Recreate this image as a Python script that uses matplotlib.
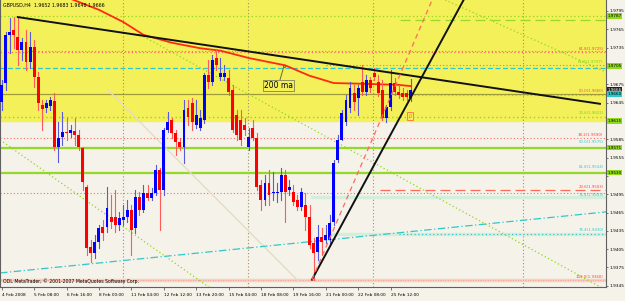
import matplotlib
matplotlib.use("Agg")
import matplotlib.pyplot as plt
import matplotlib.transforms as mtransforms

# GBPUSD H4 bars from 4 Feb 2008
opens = [1.9646, 1.9677, 1.9756, 1.9764, 1.9752, 1.9731, 1.9744, 1.9711, 1.9736, 1.9687,
         1.9641, 1.9636, 1.9640, 1.9648, 1.9572, 1.9589, 1.9597, 1.9595, 1.9599, 1.9592,
         1.9571, 1.9507, 1.9409, 1.9399, 1.9417, 1.9441, 1.9441, 1.9458, 1.9458, 1.9445,
         1.9453, 1.9458, 1.9469, 1.9440, 1.9491, 1.9469, 1.9497, 1.9489, 1.9497, 1.9535,
         1.9502, 1.9600, 1.9617, 1.9595, 1.9581, 1.9572, 1.9636, 1.9644, 1.9608, 1.9604,
         1.9617, 1.9690, 1.9679, 1.9718, 1.9687, 1.9687, 1.9685, 1.9666, 1.9625, 1.9617,
         1.9608, 1.9572, 1.9604, 1.9587, 1.9510, 1.9486, 1.9513, 1.9497, 1.9497, 1.9499,
         1.9527, 1.9502, 1.9499, 1.9486, 1.9474, 1.9477, 1.9458, 1.9415, 1.9400, 1.9425,
         1.9420, 1.9420, 1.9450, 1.9551, 1.9584, 1.9613, 1.9636, 1.9661, 1.9653, 1.9679,
         1.9662, 1.9682, 1.9693, 1.9679, 1.9666, 1.9620, 1.9638, 1.9677, 1.9662, 1.9661,
         1.9661, 1.9652]
highs = [1.9682, 1.9761, 1.9784, 1.9785, 1.9785, 1.9751, 1.9764, 1.9761, 1.9748, 1.9695,
         1.9649, 1.9649, 1.9654, 1.9661, 1.9613, 1.9630, 1.9620, 1.9608, 1.9620, 1.9600,
         1.9572, 1.9510, 1.9420, 1.9428, 1.9445, 1.9453, 1.9507, 1.9494, 1.9502, 1.9466,
         1.9477, 1.9486, 1.9477, 1.9502, 1.9499, 1.9510, 1.9510, 1.9505, 1.9543, 1.9538,
         1.9604, 1.9630, 1.9620, 1.9600, 1.9587, 1.9649, 1.9649, 1.9653, 1.9649, 1.9633,
         1.9693, 1.9715, 1.9723, 1.9731, 1.9718, 1.9707, 1.9698, 1.9674, 1.9633, 1.9633,
         1.9620, 1.9604, 1.9617, 1.9595, 1.9518, 1.9527, 1.9535, 1.9531, 1.9513, 1.9538,
         1.9535, 1.9518, 1.9510, 1.9494, 1.9505, 1.9497, 1.9477, 1.9423, 1.9445, 1.9440,
         1.9445, 1.9461, 1.9551, 1.9592, 1.9633, 1.9658, 1.9679, 1.9674, 1.9674, 1.9707,
         1.9690, 1.9687, 1.9702, 1.9690, 1.9682, 1.9641, 1.9698, 1.9685, 1.9674, 1.9669,
         1.9666, 1.9683]
lows = [1.9633, 1.9666, 1.9726, 1.9734, 1.9707, 1.9715, 1.9698, 1.9702, 1.9671, 1.9633,
        1.9600, 1.9630, 1.9633, 1.9567, 1.9548, 1.9576, 1.9584, 1.9589, 1.9576, 1.9567,
        1.9502, 1.9396, 1.9384, 1.9391, 1.9407, 1.9420, 1.9433, 1.9440, 1.9433, 1.9437,
        1.9445, 1.9450, 1.9396, 1.9432, 1.9461, 1.9466, 1.9486, 1.9486, 1.9494, 1.9437,
        1.9494, 1.9597, 1.9587, 1.9559, 1.9567, 1.9546, 1.9608, 1.9600, 1.9604, 1.9600,
        1.9612, 1.9669, 1.9674, 1.9698, 1.9682, 1.9682, 1.9658, 1.9597, 1.9584, 1.9576,
        1.9592, 1.9567, 1.9584, 1.9502, 1.9469, 1.9477, 1.9477, 1.9486, 1.9482, 1.9486,
        1.9450, 1.9494, 1.9477, 1.9469, 1.9469, 1.9437, 1.9407, 1.9355, 1.9387, 1.9396,
        1.9415, 1.9412, 1.9445, 1.9548, 1.9584, 1.9608, 1.9630, 1.9633, 1.9625, 1.9658,
        1.9658, 1.9662, 1.9682, 1.9656, 1.9617, 1.9613, 1.9633, 1.9658, 1.9653, 1.9649,
        1.9649, 1.9648]
closes = [1.9674, 1.9756, 1.9761, 1.9756, 1.9731, 1.9744, 1.9711, 1.9736, 1.9687, 1.9644,
          1.9635, 1.9644, 1.9649, 1.9572, 1.9587, 1.9597, 1.9595, 1.9600, 1.9592, 1.9572,
          1.9515, 1.9407, 1.9399, 1.9417, 1.9440, 1.9432, 1.9472, 1.9450, 1.9445, 1.9456,
          1.9458, 1.9469, 1.9437, 1.9491, 1.9469, 1.9497, 1.9489, 1.9497, 1.9535, 1.9502,
          1.9600, 1.9613, 1.9595, 1.9581, 1.9572, 1.9633, 1.9622, 1.9613, 1.9625, 1.9620,
          1.9690, 1.9679, 1.9715, 1.9707, 1.9693, 1.9693, 1.9662, 1.9600, 1.9592, 1.9584,
          1.9600, 1.9589, 1.9587, 1.9507, 1.9486, 1.9513, 1.9494, 1.9499, 1.9499, 1.9527,
          1.9499, 1.9507, 1.9482, 1.9474, 1.9499, 1.9458, 1.9412, 1.9399, 1.9425, 1.9417,
          1.9428, 1.9448, 1.9546, 1.9584, 1.9628, 1.9649, 1.9669, 1.9646, 1.9669, 1.9662,
          1.9682, 1.9669, 1.9687, 1.9661, 1.9620, 1.9638, 1.9677, 1.9662, 1.9658, 1.9654,
          1.9654, 1.9666]

# 200 period moving average, sampled along the curve
ma_bars = [17, 24, 30, 35, 42, 49, 54, 61, 70, 76, 82, 88, 98, 101]
ma_vals = [1.9815, 1.9797, 1.9777, 1.9756, 1.9743, 1.9734, 1.9730, 1.9718, 1.9706, 1.9689,
           1.9677, 1.9676, 1.9674, 1.9672]

# time axis labels (every 8 bars)
tick_bars = [0, 8, 16, 24, 32, 40, 48, 56, 64, 72, 80, 88, 96]
tick_labels = ["4 Feb 2008", "5 Feb 08:00", "6 Feb 16:00", "8 Feb 00:00", "11 Feb 04:00",
               "12 Feb 12:00", "13 Feb 20:00", "15 Feb 04:00", "18 Feb 08:00",
               "19 Feb 16:00", "21 Feb 00:00", "22 Feb 08:00", "25 Feb 12:00"]
price_ticks = [1.9795, 1.9765, 1.9735, 1.9705, 1.9675, 1.9645, 1.9615, 1.9585, 1.9555,
               1.9525, 1.9495, 1.9465, 1.9435, 1.9405, 1.9375, 1.9345]
week_grid = [29.95, 60.8, 91.7, 128.7]

# horizontal levels: price, start bar, colour, style, width
levels = [
    (1.9787, None, "#8fd81c", (0, (1, 2)), 0.9),
    (1.9780, 98.3, "#9ad82a", (0, (8, 4)), 0.9),
    (1.9728, None, "#ff6a6a", (0, (1, 2)), 0.9),
    (1.9729, 4, "#a8a040", (0, (1, 2)), 0.8),
    (1.9707, 80, "#a8a040", (0, (1, 2)), 0.8),
    (1.9702, None, "#2fc8c8", (0, (4, 2)), 0.9),
    (1.9659, None, "#a09a3a", "-", 0.9),
    (1.9657, 98, "#8fd81c", (0, (1, 2)), 0.9),
    (1.9622, None, "#8fd81c", (0, (1, 2)), 1.0),
    (1.9587, None, "#ff6a6a", (0, (1, 2)), 0.8),
    (1.9571, None, "#94d82a", "-", 1.6),
    (1.9530, None, "#94d82a", "-", 1.6),
    (1.9502, 93.4, "#ff6a5a", (0, (8, 4)), 0.9),
    (1.9497, None, "#ff6a6a", (0, (1, 2)), 0.8),
    (1.9491, 76.6, "#d4eedc", "-", 2.5),
    (1.9430, 81, "#d4eedc", "-", 2.5),
    (1.9430, 98, "#2fc8c8", (0, (1, 2)), 0.9),
    (1.9355, None, "#f3d2bf", "-", 2.5),
    (1.9355, None, "#ff8a7a", (0, (1, 2)), 0.6),
]

# fibonacci captions drawn at the right edge
fib_text = ["61.8(1.9725)", "61.8(1.9707)", "50.0(1.9660)", "23.6(1.9622)", "38.2(1.9590)",
            "50.0(1.9575)", "61.8(1.9534)", "23.6(1.9503)", "76.4(1.9493)", "76.4(1.9430)",
            "100.0(1.9360)"]
fib_price = [1.9733, 1.9712, 1.9664, 1.9628, 1.9592, 1.9580, 1.9539, 1.9507, 1.9494,
             1.9436, 1.9360]
fib_color = ["#ff4040", "#7fd01c", "#ff5030", "#7fd01c", "#ff4040", "#2fc8c8", "#2fc8c8",
             "#ff4040", "#2fc8c8", "#2fc8c8", "#ff4040"]

# coloured tags on the price scale: price, text, fill, text colour
tag_price = [1.9787, 1.9705, 1.9666, 1.9659, 1.9615, 1.9571, 1.9530]
tag_text = ["1.9787", "1.9705", "1.9666", "1.9660", "1.9615", "1.9571", "1.9530"]
tag_fill = ["#8fd81c", "#8fd81c", "#202020", "#2fc8c8", "#8fd81c", "#8fd81c", "#8fd81c"]
tag_ink = ["black", "black", "white", "black", "black", "black", "black"]

fig = plt.figure(figsize=(6.25, 3.01), dpi=100)
fig.patch.set_facecolor("#f5f2ea")
ax = fig.add_axes([0, 14 / 301, 606 / 625, 287 / 301])
ax.set_facecolor("#f5f2ea")
ax.set_xlim(-0.42, 149.2)
ax.set_ylim(1.9343, 1.9813)

# yellow zone
ax.axhspan(1.9615, 1.9813, color="#f4f05a", zorder=0)

for b in week_grid:
    ax.axvline(b, color="#a09060", ls=(0, (1, 2)), lw=0.8, zorder=1)

for p, start, c, ls, lw in levels:
    if start is None:
        ax.axhline(p, color=c, ls=ls, lw=lw, zorder=1)
    else:
        ax.plot([start, 149.2], [p, p], color=c, ls=ls, lw=lw, zorder=1)

# diagonal lines
ax.plot([34.2, 149.2], [1.9756, 1.9338], color="#8fd81c", ls=(0, (1, 2)), lw=0.9, zorder=1)
ax.plot([109.5, 149.2], [1.9813, 1.9695], color="#8fd81c", ls=(0, (1, 2)), lw=0.9, zorder=1)
ax.plot([-0.42, 52.2], [1.9584, 1.9338], color="#8fd81c", ls=(0, (1, 2)), lw=0.9, zorder=1)
ax.plot([26.2, 73.2], [1.9666, 1.9353], color="#e6dcc4", lw=1.0, zorder=1)
ax.plot([-0.42, 149.2], [1.9366, 1.9466], color="#2fc8c8", ls=(0, (6, 2, 1, 2)), lw=0.9, zorder=1)

# 200 ma
ax.plot(ma_bars, ma_vals, color="#ff2a10", lw=1.3, zorder=3)

# candles
for i, (o, h, l, c) in enumerate(zip(opens, highs, lows, closes)):
    col = "#0000ff" if c >= o else "#ff0000"
    wick = "#5a5ad8" if c >= o else "#ff5a5a"
    ax.plot([i, i], [l, h], color=wick, lw=0.8, zorder=4)
    ax.bar(i, max(abs(c - o), 0.00006), bottom=min(o, c), width=0.72, color=col, zorder=5)

# trend lines
ax.plot([4, 147.7], [1.9785, 1.9643], color="#111111", lw=1.4, zorder=6)
ax.plot([76.6, 114.2], [1.9355, 1.9815], color="#111111", lw=1.4, zorder=6)
ax.plot([76.6, 106.4], [1.9355, 1.9815], color="#ff6a5a", ls=(0, (4, 3)), lw=0.9, zorder=6)

# 200 ma caption
ax.plot([68.7, 69.7], [1.9682, 1.9705], color="#6a6a30", lw=0.7, zorder=6)
ax.plot([69.7], [1.9705], marker="s", ms=2, mfc="none", mec="#6a6a30", mew=0.6, zorder=6)
ax.text(68.3, 1.9673, "200 ma", fontsize=5.5, ha="center", va="center", color="black", zorder=7,
        bbox=dict(boxstyle="square,pad=0.15", fc="#f4f05a", ec="#808060", lw=0.6))
ax.text(100.8, 1.9623, "0", fontsize=3.5, ha="center", va="center", color="#ff7030", zorder=7,
        bbox=dict(boxstyle="square,pad=0.25", fc="none", ec="#ff8040", lw=0.7))

for t, p, c in zip(fib_text, fib_price, fib_color):
    ax.text(148.6, p, t, fontsize=2.8, ha="right", va="center", color=c, zorder=7)

ax.text(0.005, 0.99, "GBPUSD,H4  1.9652 1.9683 1.9648 1.9666", transform=ax.transAxes,
        fontsize=3.4, ha="left", va="top", color="black", zorder=8)
ax.text(0.005, 0.012, "ODL MetaTrader, \u00a9 2001-2007 MetaQuotes Software Corp.",
        transform=ax.transAxes, fontsize=3.3, ha="left", va="bottom", color="black", zorder=8)

# axes styling
ax.spines["top"].set_visible(False)
for s in ["left", "right", "bottom"]:
    ax.spines[s].set_color("#606060")
    ax.spines[s].set_linewidth(0.8)

ax.set_xticks(tick_bars)
ax.set_xticklabels(tick_labels, fontsize=3.1, ha="left")
ax.tick_params(axis="x", length=2, width=0.6, pad=2, color="#606060")
ax.yaxis.tick_right()
ax.set_yticks(price_ticks)
# the scale value is hidden where a coloured tag sits on top of it
covered = [any(abs(p - tp) < 0.0008 for tp in tag_price) for p in price_ticks]
ax.set_yticklabels(["" if cv else f"{p:.4f}" for p, cv in zip(price_ticks, covered)],
                   fontsize=3.1)
ax.tick_params(axis="y", length=1.5, width=0.6, pad=1, color="#606060")

trans = mtransforms.blended_transform_factory(ax.transAxes, ax.transData)
for p, t, fc, tc in zip(tag_price, tag_text, tag_fill, tag_ink):
    ax.text(1.0025, p, t, transform=trans, fontsize=3.0, ha="left", va="center", color=tc,
            zorder=9, clip_on=False,
            bbox=dict(boxstyle="square,pad=0.15", fc=fc, ec="none"))

fig.savefig("out.png", dpi=100, facecolor=fig.get_facecolor())
